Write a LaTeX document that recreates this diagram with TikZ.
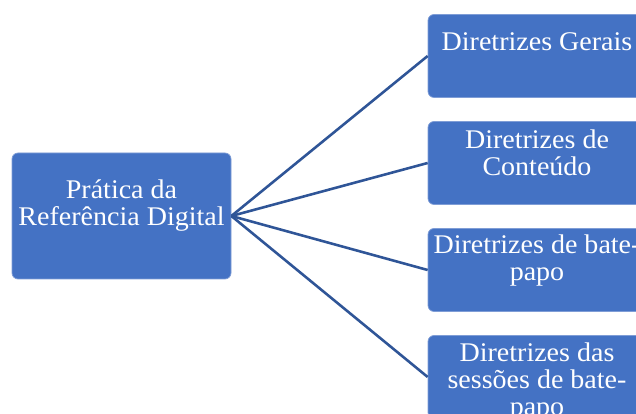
\documentclass[tikz,border=0pt]{standalone}
\usepackage{fontspec}
\setmainfont{Liberation Serif}[FakeStretch=1.04]
\definecolor{boxblue}{HTML}{4472C4}
\definecolor{boxedge}{HTML}{7F9DD6}
\definecolor{linkblue}{HTML}{2F5597}
\begin{document}
\begin{tikzpicture}[
    font=\fontsize{23}{23}\selectfont,
    card/.style={draw=boxedge, line width=0.6pt, fill=boxblue, rounded corners=0.18cm,
      minimum width=6.54cm, minimum height=2.49cm},
    hub/.style={card, minimum width=6.57cm, minimum height=3.78cm},
    txt/.style={anchor=north, inner sep=0pt, text=white, align=center},
    arr/.style={line width=2.2pt, linkblue}
  ]
    \useasboundingbox (0,0) rectangle (19.08,12.42);

    \node[hub] (ref) at (3.645,5.94) {};
    \node[txt] (refT) at (3.645,7.03) {Prática da\\Referência Digital};

    \node[card] (d1) at (16.11,10.74) {};
    \node[card] (d2) at (16.11,7.53)  {};
    \node[card] (d3) at (16.11,4.32)  {};
    \node[card] (d4) at (16.11,1.11)  {};

    \node[txt] (d1T) at ([yshift=-0.56cm]d1.north) {Diretrizes Gerais};
    \node[txt] (d2T) at ([yshift=-0.25cm]d2.north) {Diretrizes de\\Conteúdo};
    \node[txt] (d3T) at ([yshift=-0.19cm]d3.north) {Diretrizes de bate-\\papo};
    \node[txt] (d4T) at ([yshift=-0.22cm]d4.north) {Diretrizes das\\sessões de bate-\\papo};

    \draw[arr] (ref.east) -- (d1.west);
    \draw[arr] (ref.east) -- (d2.west);
    \draw[arr] (ref.east) -- (d3.west);
    \draw[arr] (ref.east) -- (d4.west);
  \end{tikzpicture}
\end{document}
